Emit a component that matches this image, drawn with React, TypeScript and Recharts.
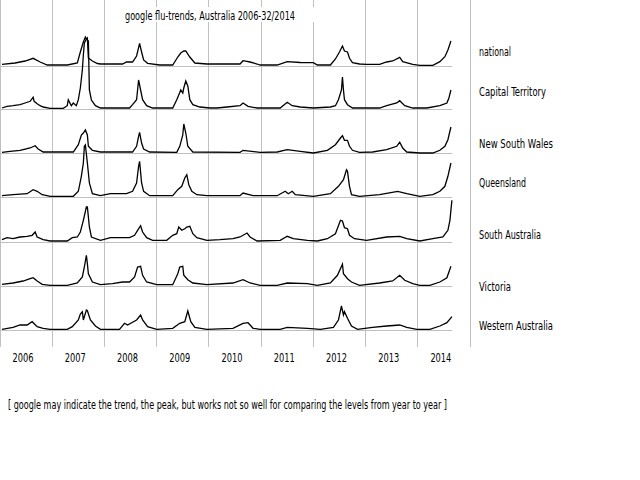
import React from 'react';
import { LineChart, Line, XAxis, YAxis, ReferenceLine } from 'recharts';

// week index since start of 2006, weekly google flu-trends level (relative units)
const yearLabels = ['2006', '2007', '2008', '2009', '2010', '2011', '2012', '2013', '2014'];
const regionNames = ['national', 'Capital Territory', 'New South Wales', 'Queensland', 'South Australia', 'Victoria', 'Western Australia'];

const national: [number, number][] = [
  [2, 1.7], [15, 3], [25, 5], [33, 7.7], [40, 4], [47, 1], [67, 1], [77, 3], [80, 14], [83, 24], [85, 29], [86, 27], [87, 28],
  [88, 8], [92, 5], [97, 2.5], [100, 2], [122, 2], [126, 4], [132, 4], [136, 10], [139, 22.7], [141, 14], [143, 6], [147, 2.7],
  [159, 1], [172, 1], [177, 9], [180, 13], [183, 15], [185, 15], [189, 9], [194, 3], [206, 2], [239, 2], [242, 5.3], [249, 4],
  [256, 2], [259, 1], [276, 1], [286, 4.3], [299, 3.5], [312, 3.3], [316, 1], [329, 1], [334, 7], [338, 14], [341, 20], [343, 15],
  [346, 14], [348, 7.7], [351, 3.3], [358, 2], [365, 1.7], [378, 1.7], [385, 4], [391, 5], [398, 8.7], [401, 4.3], [411, 1.7],
  [418, 0.7], [431, 0.7], [438, 4.3], [443, 9.3], [446, 16], [449, 25],
];

const capitalTerritory: [number, number][] = [
  [2, 1], [7, 2.7], [13, 3.3], [20, 4.3], [25, 6], [30, 7.7], [33, 11.7], [34, 7.7], [37, 5.3], [40, 3.3], [43, 2], [50, 0.7],
  [63, 0.7], [67, 3.3], [68, 9.3], [71, 3.3], [73, 6], [76, 3.3], [78, 9.3], [80, 21], [82, 39], [83, 54], [84, 66], [86, 70],
  [88, 68], [89, 19], [91, 9], [95, 3.3], [100, 1], [129, 1], [132, 4.3], [136, 9.3], [138, 29], [140, 19], [142, 9.3], [146, 3.3],
  [152, 1], [172, 1], [176, 9.3], [178, 14], [180, 19], [182, 16], [183, 21], [185, 28], [187, 23], [189, 9.3], [192, 4.3],
  [199, 2], [209, 1], [216, 1], [226, 2], [239, 3.3], [242, 6], [247, 2.7], [256, 1], [279, 1], [286, 6.7], [291, 3.3], [299, 2],
  [312, 1], [329, 2], [334, 3.3], [337, 9.3], [340, 19], [341, 32], [342, 19], [343, 9.3], [346, 4.3], [351, 1], [378, 1],
  [385, 3.3], [395, 6], [398, 8.3], [403, 3.3], [411, 1], [425, 1], [438, 3.3], [445, 6], [447, 11], [449, 19],
];

const newSouthWales: [number, number][] = [
  [2, 0.7], [10, 1.7], [20, 2.7], [30, 5], [35, 7.3], [38, 4], [43, 1], [73, 1], [78, 8.3], [81, 18], [83, 20], [85, 23],
  [87, 18], [88, 6.7], [92, 2.7], [100, 1], [132, 1], [136, 6.7], [138, 16.7], [139, 20.7], [141, 10], [143, 4], [149, 1],
  [176, 0.7], [179, 6.7], [182, 18], [183, 29], [185, 20], [187, 6.7], [192, 1], [239, 0.7], [242, 2.7], [259, 0.7], [276, 1],
  [286, 3.3], [299, 1.7], [312, 0], [326, 2.7], [334, 8.3], [339, 15], [341, 17.3], [343, 12.7], [346, 12.7], [348, 6.7],
  [351, 2.7], [358, 0.7], [371, 1], [385, 3.3], [395, 6.7], [398, 10.7], [401, 5], [405, 1], [418, 0], [431, 0], [438, 2.7],
  [443, 6.7], [446, 13.3], [449, 26],
];

const queensland: [number, number][] = [
  [2, 1.3], [13, 2.3], [27, 3.3], [33, 7.3], [37, 5.7], [42, 2.3], [50, 0.7], [73, 0.7], [78, 5.7], [81, 20.7], [83, 34],
  [84, 50.7], [85, 52], [87, 34], [89, 14], [92, 3.3], [100, 1.3], [110, 3.3], [126, 3.3], [132, 5.7], [136, 14], [138, 30.7],
  [139, 35.7], [141, 14], [143, 5.7], [149, 1.3], [172, 1.3], [177, 7.3], [181, 10.7], [184, 19], [186, 22.3], [188, 12.3],
  [191, 5.7], [196, 2.3], [206, 1.3], [239, 1.3], [242, 4], [252, 1.3], [276, 1.3], [284, 5.7], [287, 3.3], [291, 5.7],
  [294, 2.3], [312, 0.7], [329, 3.3], [337, 10.7], [342, 17.3], [345, 27.3], [346, 25.7], [348, 10.7], [350, 2.3], [358, 0.7],
  [378, 2.3], [396, 5.7], [405, 3.3], [418, 0.7], [431, 2.3], [438, 5.7], [443, 10.7], [446, 20.7], [449, 34],
];

const southAustralia: [number, number][] = [
  [2, 2.3], [7, 4.3], [13, 3.3], [20, 5], [27, 5.7], [32, 6.7], [35, 10], [37, 5], [43, 2.3], [50, 1], [67, 1], [72, 4.3],
  [77, 5], [80, 10], [83, 21.7], [86, 35], [87, 35], [89, 15], [91, 5], [100, 1.7], [110, 4.3], [129, 4.3], [134, 6.7],
  [137, 11.7], [140, 16.3], [142, 10], [146, 4.3], [152, 1.7], [166, 1.7], [172, 6.7], [176, 8.3], [178, 15], [181, 11.7],
  [184, 13.3], [186, 15], [189, 15.7], [192, 8.3], [196, 4.3], [206, 1.7], [219, 2.3], [232, 3.3], [239, 5], [246, 9], [249, 5],
  [256, 1], [279, 1.7], [286, 5.7], [292, 3.3], [306, 1.7], [316, 1], [326, 3.3], [334, 8.3], [339, 21.7], [341, 21],
  [343, 14.3], [346, 13.3], [348, 6.7], [353, 3.3], [365, 1.7], [385, 5], [398, 5.7], [405, 3.3], [418, 1], [431, 3.3],
  [441, 5], [446, 11.7], [448, 21.7], [450, 41.7],
];

const victoria: [number, number][] = [
  [2, 1.7], [13, 3], [23, 5], [30, 7.3], [33, 8.3], [37, 5], [42, 1.7], [50, 0.7], [67, 0.7], [77, 3], [82, 9], [84, 19],
  [86, 30.7], [87, 22.3], [88, 12.3], [92, 4], [100, 1.3], [112, 2.3], [122, 4], [129, 4], [134, 9], [137, 19], [140, 19.7],
  [142, 10.7], [146, 4], [156, 1.3], [172, 1.3], [177, 12.3], [179, 19], [182, 19.7], [183, 10.7], [187, 6.3], [192, 3],
  [206, 1.3], [232, 3], [242, 6.3], [249, 3], [259, 0.7], [276, 0.7], [286, 3], [306, 2.3], [316, 0.7], [329, 3], [336, 10.7],
  [341, 21.7], [342, 12.3], [346, 7.3], [350, 4], [358, 0.7], [378, 3], [391, 5], [398, 10.7], [403, 5.7], [411, 2.3],
  [418, 0.7], [428, 0.7], [438, 4], [445, 8.3], [449, 19.7],
];

const westernAustralia: [number, number][] = [
  [2, 0.7], [13, 2.7], [20, 5], [27, 5], [32, 8.3], [37, 3.3], [43, 1.7], [50, 0.7], [67, 0.7], [72, 3.3], [78, 10], [80, 16],
  [82, 18.3], [83, 10], [86, 20], [87, 19.3], [90, 10], [95, 4], [100, 0.7], [119, 0.7], [124, 6.7], [127, 5], [136, 10],
  [140, 15], [142, 10], [147, 3.3], [156, 0.7], [172, 1.7], [179, 6.7], [184, 8.3], [187, 19], [190, 8.3], [194, 2.7],
  [206, 0.7], [232, 1.7], [242, 6.7], [247, 7.3], [252, 1.7], [259, 0.7], [279, 0.7], [286, 2.7], [306, 1.7], [319, 0.7],
  [332, 2.7], [337, 10], [340, 24], [342, 15], [343, 18.3], [346, 11.7], [350, 4], [356, 0.7], [371, 2.7], [385, 4], [398, 5],
  [405, 2.7], [415, 0.7], [428, 0.7], [438, 4], [445, 7.3], [450, 13.3],
];

const allSeries = [national, capitalTerritory, newSouthWales, queensland, southAustralia, victoria, westernAustralia];

// layout constants
const PLOT_H = 347;
const BASELINES = [66, 109, 153, 197, 242, 286, 330]; // px from top of each panel's baseline
const LABEL_Y = [56, 96, 148, 187, 239, 291, 330];
const LABEL_W = [32, 67, 74, 47, 62, 32, 74];
const FONT = '"Liberation Sans Narrow", "DejaVu Sans Condensed", "Arial Narrow", sans-serif';
const WEEKS_PER_YEAR = 52;
const LAST_WEEK = 449;

const yearTicks = yearLabels.map((_, i) => i * WEEKS_PER_YEAR + 23);
const yearLines = Array.from({ length: yearLabels.length + 1 }, (_, i) => i * WEEKS_PER_YEAR);

const YearTick = (props: any) => {
  const { x, payload, index } = props;
  return (
    <text x={x} y={362} textAnchor="middle" fontFamily={FONT} fontSize={13} fill="#000"
      textLength={21} lengthAdjust="spacingAndGlyphs">
      {yearLabels[index] ?? String(payload.value)}
    </text>
  );
};

export default function App() {
  const offsets = BASELINES.map((b) => PLOT_H - b);
  const rows = allSeries.map((s, i) => s.map(([w, v]) => ({ w, v: v + offsets[i] })));
  return (
    <div style={{ position: 'absolute', left: 0, top: 0, width: 640, height: 480, background: '#fff' }}>
      <LineChart width={640} height={480} margin={{ top: 0, right: 170, bottom: 103, left: 0 }}>
        <XAxis dataKey="w" type="number" domain={[0, WEEKS_PER_YEAR * 9]} ticks={yearTicks} tick={<YearTick />}
          axisLine={false} tickLine={false} allowDataOverflow height={30} interval={0} />
        <YAxis type="number" domain={[0, PLOT_H]} hide allowDataOverflow />
        {yearLines.map((x) => (
          <ReferenceLine key={'v' + x} x={x} stroke="#c0c0c0" strokeWidth={1} shapeRendering="crispEdges" ifOverflow="extendDomain" />
        ))}
        {offsets.map((o, i) => (
          <ReferenceLine key={'h' + i} segment={[{ x: 0, y: o }, { x: LAST_WEEK + 1, y: o }]} stroke="#c0c0c0"
            strokeWidth={1} shapeRendering="crispEdges" />
        ))}
        {rows.map((r, i) => (
          <Line key={regionNames[i]} data={r} dataKey="v" type="linear" stroke="#000" strokeWidth={1.3}
            dot={false} activeDot={false} isAnimationActive={false} />
        ))}
      </LineChart>
      <svg width={640} height={480} style={{ position: 'absolute', left: 0, top: 0, pointerEvents: 'none' }}>
        <rect x={116} y={7} width={204} height={15} fill="#fff" />
        <text x={125} y={20} fontFamily={FONT} fontSize={11.5} fill="#000" textLength={170} lengthAdjust="spacingAndGlyphs">
          google flu-trends, Australia  2006-32/2014
        </text>
        {regionNames.map((n, i) => (
          <text key={n} x={479} y={LABEL_Y[i]} fontFamily={FONT} fontSize={12} fill="#000"
            textLength={LABEL_W[i]} lengthAdjust="spacingAndGlyphs">
            {n}
          </text>
        ))}
        <text x={8} y={409} fontFamily={FONT} fontSize={12} fill="#000" textLength={439} lengthAdjust="spacingAndGlyphs">
          [ google may indicate the trend, the peak, but works not so well for comparing the levels from year to year  ]
        </text>
      </svg>
    </div>
  );
}
